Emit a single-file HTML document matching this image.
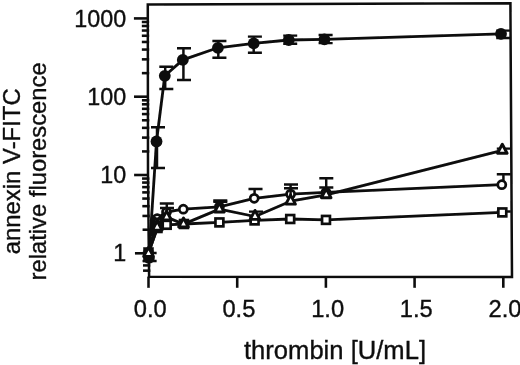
<!DOCTYPE html>
<html><head><meta charset="utf-8"><title>chart</title>
<style>html,body{margin:0;padding:0;background:#fff}svg{display:block}text{font-family:"Liberation Sans",Arial,sans-serif;fill:#0c0c0c;stroke:#0c0c0c;stroke-width:0.35px}</style></head><body>
<svg width="520" height="365" viewBox="0 0 520 365">
<defs><filter id="soft" x="0" y="0" width="520" height="365" filterUnits="userSpaceOnUse"><feGaussianBlur stdDeviation="0.42"/></filter></defs>
<rect width="520" height="365" fill="#fff"/>
<g filter="url(#soft)">
<g stroke="#0a0a0a" stroke-width="2.5" fill="none" stroke-linecap="square">
<path d="M147.8 4.5 L510.4 3.35 L512 276.9 L149.1 276.7 L148 175 Z"/>
</g>
<g stroke="#0a0a0a" stroke-width="2.55">
<line x1="134.95" y1="253.3" x2="148.85" y2="253.3"/>
<line x1="134.1" y1="175" x2="148" y2="175"/>
<line x1="134.01" y1="96.7" x2="147.91" y2="96.7"/>
<line x1="133.92" y1="18.4" x2="147.82" y2="18.4"/>
<line x1="143.03" y1="270.67" x2="150.33" y2="270.67"/>
<line x1="142.98" y1="265.43" x2="150.28" y2="265.43"/>
<line x1="142.93" y1="260.89" x2="150.23" y2="260.89"/>
<line x1="142.89" y1="256.88" x2="150.19" y2="256.88"/>
<line x1="142.59" y1="229.73" x2="149.89" y2="229.73"/>
<line x1="142.44" y1="215.94" x2="149.74" y2="215.94"/>
<line x1="142.34" y1="206.16" x2="149.64" y2="206.16"/>
<line x1="142.25" y1="198.57" x2="149.55" y2="198.57"/>
<line x1="142.19" y1="192.37" x2="149.49" y2="192.37"/>
<line x1="142.13" y1="187.13" x2="149.43" y2="187.13"/>
<line x1="142.08" y1="182.59" x2="149.38" y2="182.59"/>
<line x1="142.04" y1="178.58" x2="149.34" y2="178.58"/>
<line x1="141.97" y1="151.43" x2="149.27" y2="151.43"/>
<line x1="141.96" y1="137.64" x2="149.26" y2="137.64"/>
<line x1="141.94" y1="127.86" x2="149.24" y2="127.86"/>
<line x1="141.94" y1="120.27" x2="149.24" y2="120.27"/>
<line x1="141.93" y1="114.07" x2="149.23" y2="114.07"/>
<line x1="141.92" y1="108.83" x2="149.22" y2="108.83"/>
<line x1="141.92" y1="104.29" x2="149.22" y2="104.29"/>
<line x1="141.91" y1="100.28" x2="149.21" y2="100.28"/>
<line x1="141.88" y1="73.13" x2="149.18" y2="73.13"/>
<line x1="141.86" y1="59.34" x2="149.16" y2="59.34"/>
<line x1="141.85" y1="49.56" x2="149.15" y2="49.56"/>
<line x1="141.84" y1="41.97" x2="149.14" y2="41.97"/>
<line x1="141.84" y1="35.77" x2="149.14" y2="35.77"/>
<line x1="141.83" y1="30.53" x2="149.13" y2="30.53"/>
<line x1="141.83" y1="25.99" x2="149.13" y2="25.99"/>
<line x1="141.82" y1="21.98" x2="149.12" y2="21.98"/>
<line x1="148.5" y1="276.6" x2="148.5" y2="287.8"/>
<line x1="237.2" y1="276.6" x2="237.2" y2="287.8"/>
<line x1="325.9" y1="276.6" x2="325.9" y2="287.8"/>
<line x1="414.6" y1="276.6" x2="414.6" y2="287.8"/>
<line x1="503.3" y1="276.6" x2="503.3" y2="287.8"/>
</g>
<g font-size="23.3">
<text x="126.2" y="261.4" text-anchor="end">1</text>
<text x="126.2" y="183.1" text-anchor="end">10</text>
<text x="126.2" y="104.8" text-anchor="end">100</text>
<text x="126.2" y="26.5" text-anchor="end">1000</text>
</g>
<g font-size="23.7">
<text x="150.2" y="317.4" text-anchor="middle">0.0</text>
<text x="238.9" y="317.4" text-anchor="middle">0.5</text>
<text x="327.6" y="317.4" text-anchor="middle">1.0</text>
<text x="416.3" y="317.4" text-anchor="middle">1.5</text>
<text x="505" y="317.4" text-anchor="middle">2.0</text>
</g>
<text x="335" y="359.4" font-size="25.6" text-anchor="middle">thrombin [U/mL]</text>
<text transform="translate(19.7,171.3) rotate(-90)" font-size="23.9" text-anchor="middle">annexin V-FITC</text>
<text transform="translate(46,171.4) rotate(-90)" font-size="23.8" text-anchor="middle">relative fluorescence</text>
<g stroke="#0a0a0a" fill="none">
<polyline stroke-width="2.8" stroke-linejoin="round" points="148.9,257.8 156.5,141.5 164.8,75.8 182.8,59.9 217.9,47.8 253.7,43.3 288.75,40 324.4,39.4 501,33.8"/>
<path stroke-width="2.45" d="M142.6 253H156.6M148.9 253V257.8M142.6 260.9H156.6M148.9 260.9V257.8M151 127.3H165M157 127.3V141.5M151 168H165M157 168V141.5M159.3 66.8H173.3M165.2 66.8V75.8M159.3 89H173.3M165.2 89V75.8M177 48.3H191M183.4 48.3V59.9M177 79.9H191M183.4 79.9V59.9M212.4 41H226.4M218.3 41V47.8M212.4 57.7H226.4M218.3 57.7V47.8M247.9 36.6H261.9M253.7 36.6V43.3M247.9 52.7H261.9M253.7 52.7V43.3M283.2 35.6H297.2M289 35.6V40M283.2 43.75H297.2M289 43.75V40M318.6 35H332.6M324.6 35V39.4M318.6 43.1H332.6M324.6 43.1V39.4M496.2 30.6H510.2M503 30.6V33.8M496.2 38H510.2M503 38V33.8"/>
</g>
<g fill="#0a0a0a">
<circle cx="148.9" cy="257.8" r="5.9"/>
<circle cx="156.5" cy="141.5" r="5.9"/>
<circle cx="164.8" cy="75.8" r="5.9"/>
<circle cx="182.8" cy="59.9" r="5.9"/>
<circle cx="217.9" cy="47.8" r="5.9"/>
<circle cx="253.7" cy="43.3" r="5.9"/>
<circle cx="288.75" cy="40" r="5.9"/>
<circle cx="324.4" cy="39.4" r="5.9"/>
<circle cx="501" cy="33.8" r="5.9"/>
</g>
<g stroke="#0a0a0a" fill="none">
<polyline stroke-width="2.8" stroke-linejoin="round" points="148.5,252.5 157.5,228 166.7,224.8 184,224 219.4,222.4 254.6,220.4 290.2,219 326,219.9 502.3,212.4"/>
<path stroke-width="2.45" d="M496.8 211.4H510.8M503.8 211.4V212.4"/>
</g>
<g stroke="#0a0a0a" stroke-width="2.65" fill="#fff">
<rect x="144.55" y="248.55" width="7.9" height="7.9"/>
<rect x="153.55" y="224.05" width="7.9" height="7.9"/>
<rect x="162.75" y="220.85" width="7.9" height="7.9"/>
<rect x="180.05" y="220.05" width="7.9" height="7.9"/>
<rect x="215.45" y="218.45" width="7.9" height="7.9"/>
<rect x="250.65" y="216.45" width="7.9" height="7.9"/>
<rect x="286.25" y="215.05" width="7.9" height="7.9"/>
<rect x="322.05" y="215.95" width="7.9" height="7.9"/>
<rect x="498.35" y="208.45" width="7.9" height="7.9"/>
</g>
<g stroke="#0a0a0a" fill="none">
<polyline stroke-width="2.8" stroke-linejoin="round" points="148.5,253 157.2,218.5 166.5,212 183.3,209.2 219.4,206.8 254.2,198.3 290.6,194.1 326,192.3 501.8,184.7"/>
<path stroke-width="2.45" d="M159.8 203.5H173.8M166.8 203.5V212M213.3 200.5H227.3M219.6 200.5V206.8M248.5 189H262.5M254.6 189V198.3M284 184.5H298M290.6 184.5V194.1M319.3 178.3H333.3M326.2 178.3V192.3M496.8 174.2H510.8M503.4 174.2V184.7"/>
</g>
<g stroke="#0a0a0a" stroke-width="2.75" fill="#fff">
<circle cx="148.5" cy="253" r="4"/>
<circle cx="157.2" cy="218.5" r="4"/>
<circle cx="166.5" cy="212" r="4"/>
<circle cx="183.3" cy="209.2" r="4"/>
<circle cx="219.4" cy="206.8" r="4"/>
<circle cx="254.2" cy="198.3" r="4"/>
<circle cx="290.6" cy="194.1" r="4"/>
<circle cx="326" cy="192.3" r="4"/>
<circle cx="501.8" cy="184.7" r="4"/>
</g>
<path d="M154 216.5L160 222.5M160 216.5L154 222.5" stroke="#0a0a0a" stroke-width="1.7" fill="none"/>
<path d="M152 215H154.6L154.4 236H150.3Z" fill="#0a0a0a"/>
<g stroke="#0a0a0a" fill="none">
<polyline stroke-width="2.8" stroke-linejoin="round" points="148.5,253.5 157.2,227.2 166.6,217.1 183.5,224.1 219.4,209.1 255,216.5 290.6,201.2 326.2,194.8 502.3,150.3"/>
<path stroke-width="2.45" d="M150.6 218.8H164.6M157.4 218.8V227.2M160 208H174M166.8 208V217.1M213.3 201.8H227.3M219.6 201.8V209.1M249 211.6H263M255 211.6V216.5M284 188.3H298M290.6 188.3V201.2M319.3 187.4H333.3M326.2 187.4V194.8M496.8 148.6H510.8M503.8 148.6V150.3"/>
</g>
<g stroke="#0a0a0a" stroke-width="2.9" fill="#fff" stroke-linejoin="round">
<path d="M148.5 247.4L153.3 256.4H143.7Z"/>
<path d="M157.2 221.1L162 230.1H152.4Z"/>
<path d="M166.6 211L171.4 220H161.8Z"/>
<path d="M183.5 218L188.3 227H178.7Z"/>
<path d="M219.4 203L224.2 212H214.6Z"/>
<path d="M255 210.4L259.8 219.4H250.2Z"/>
<path d="M290.6 195.1L295.4 204.1H285.8Z"/>
<path d="M326.2 188.7L331 197.7H321.4Z"/>
<path d="M502.3 144.2L507.1 153.2H497.5Z"/>
</g>
</g>
</svg></body></html>
